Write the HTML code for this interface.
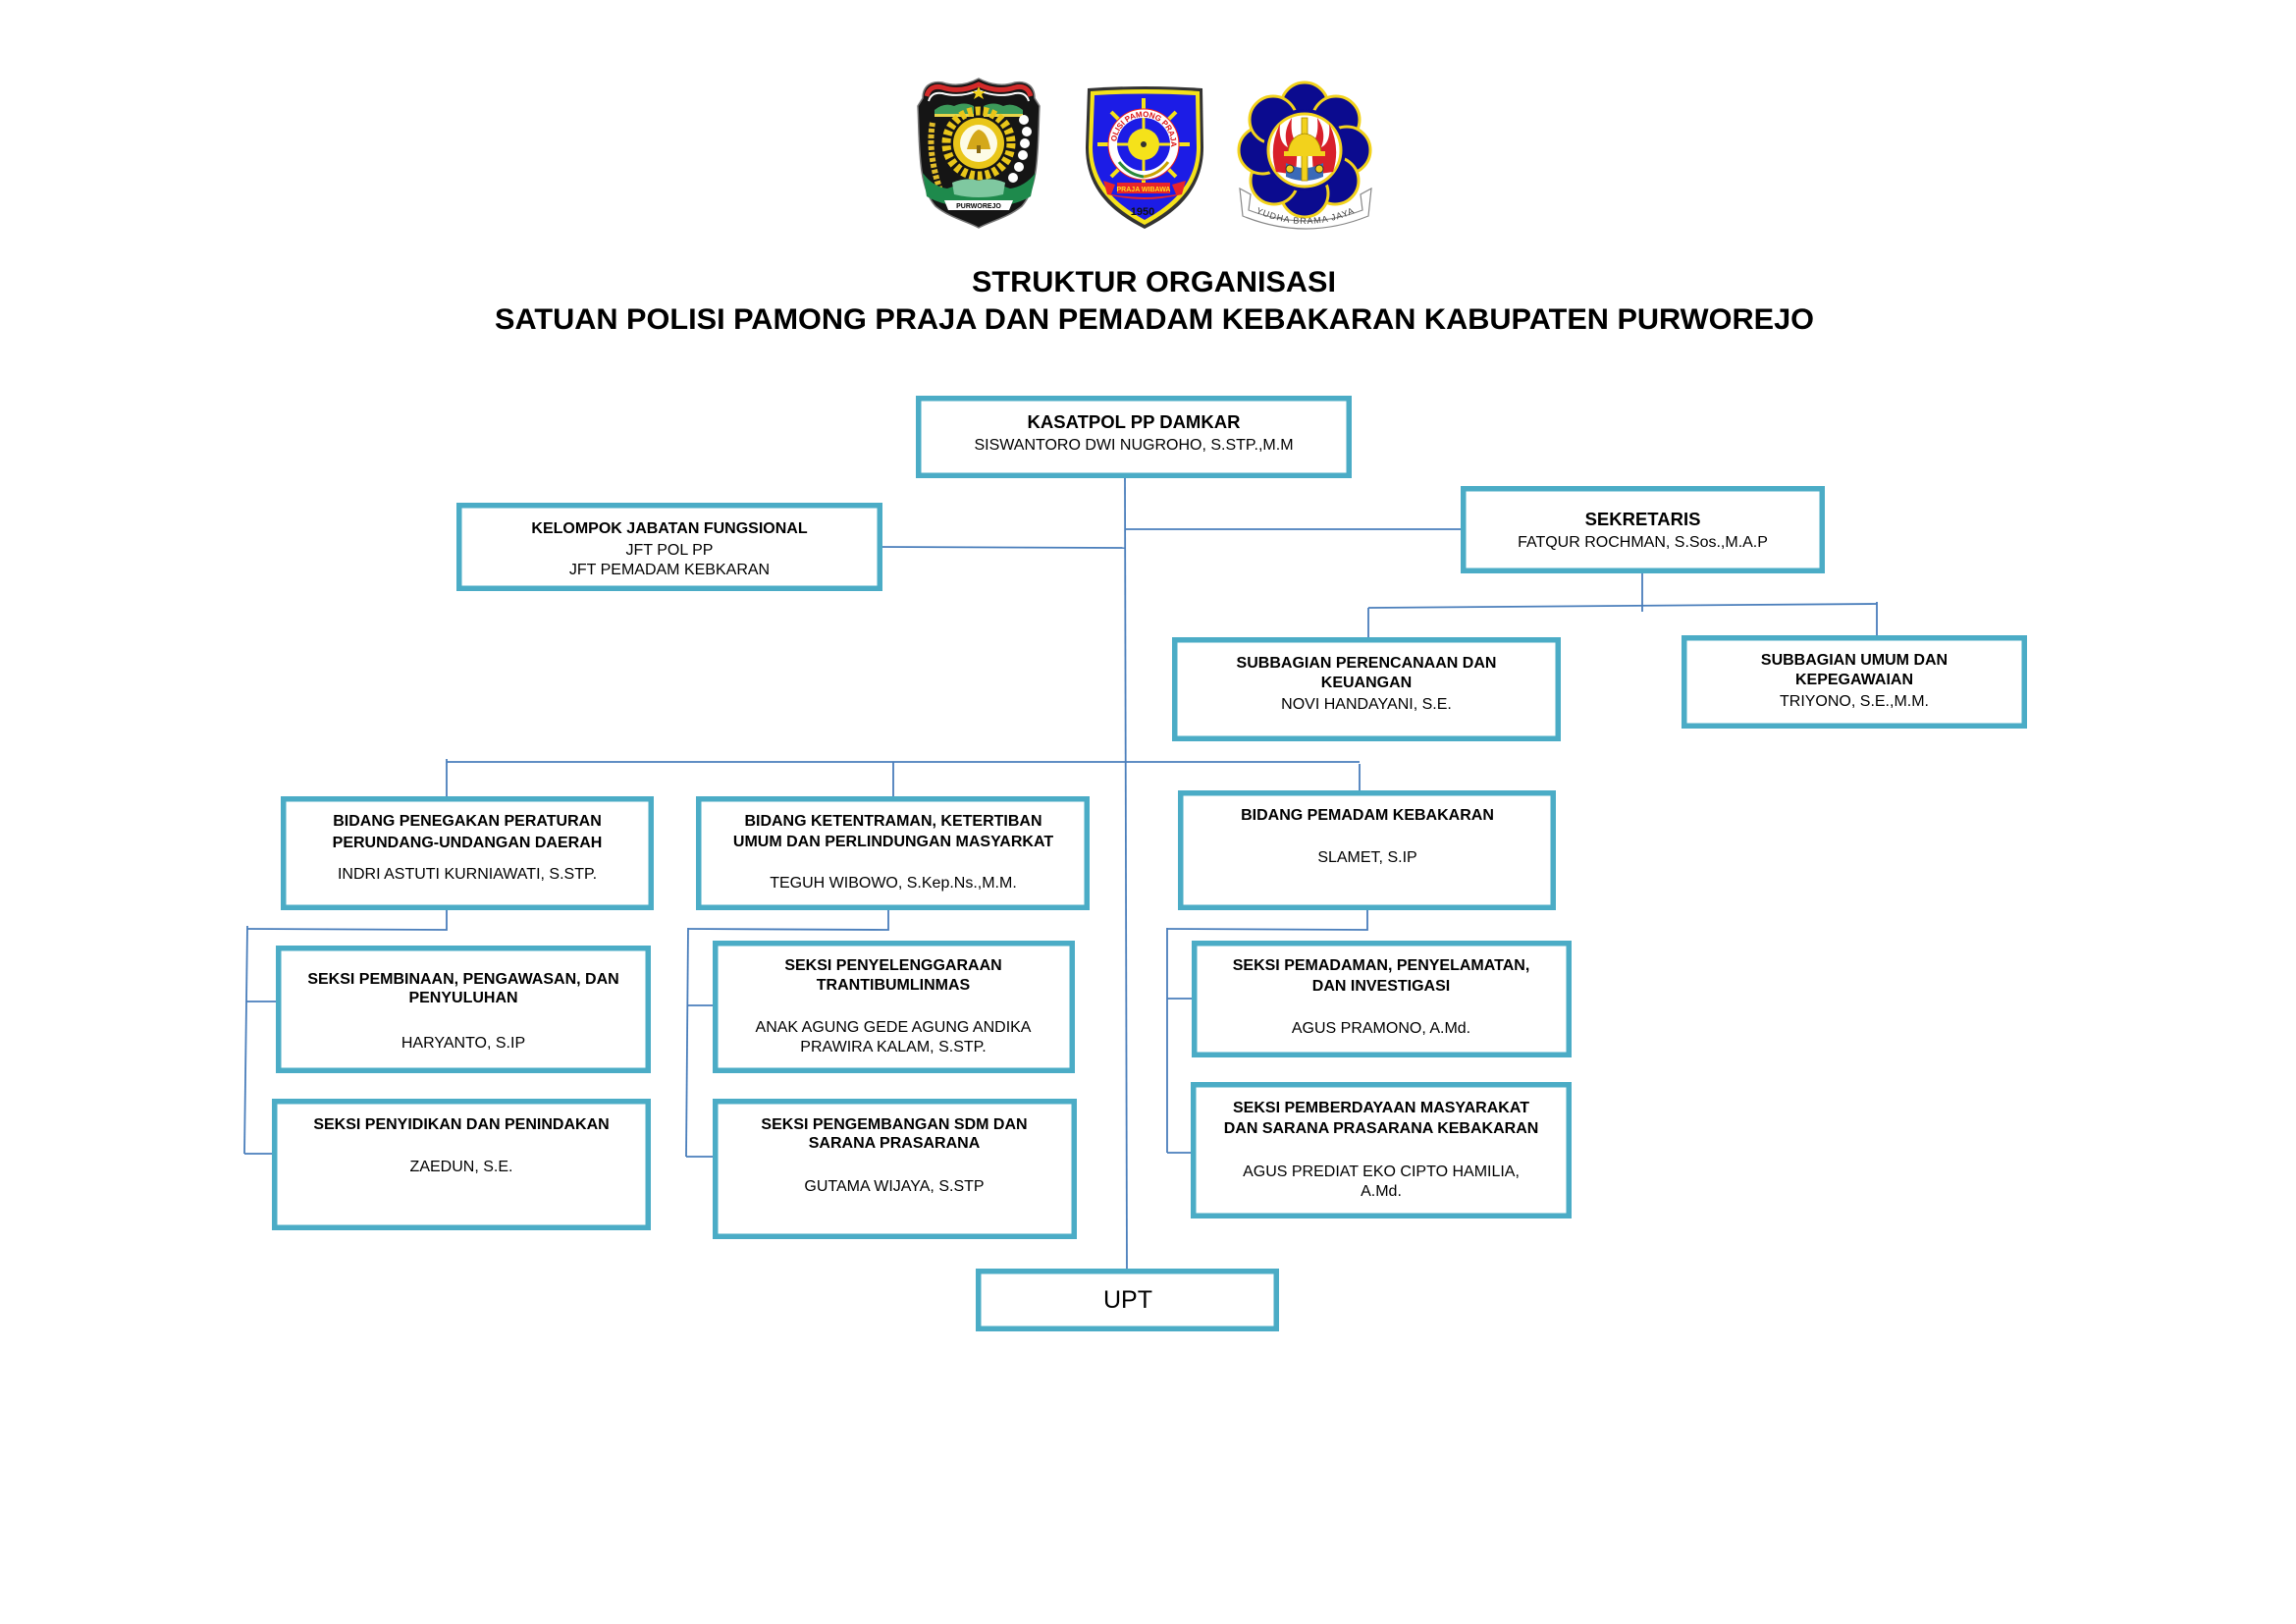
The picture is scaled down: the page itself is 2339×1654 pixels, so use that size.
<!DOCTYPE html>
<html>
<head>
<meta charset="utf-8">
<style>
html,body{margin:0;padding:0;background:#fff;}
svg{display:block;}
text{font-family:"Liberation Sans",Arial,sans-serif;fill:#000;}
.b{font-weight:bold;font-size:16px;}
.r{font-size:16px;}
.bx{fill:#fff;stroke:#4bacc6;stroke-width:5.5;}
.ln{stroke:#4a7ebb;stroke-width:1.8;fill:none;}
</style>
</head>
<body>
<svg width="2339" height="1654" viewBox="0 0 2339 1654" xmlns="http://www.w3.org/2000/svg">
<rect width="2339" height="1654" fill="#fff"/>

<!-- ===== LOGO 1 (Purworejo) ===== -->
<g>
  <path d="M940,100 C940,88 948,82 960,84 Q978,90 997,80 Q1016,90 1034,84 C1046,82 1054,88 1054,100 L1059,108 C1057,150 1059,190 1041,210 C1026,222 1010,225 997,232 C984,225 968,222 953,210 C935,190 937,150 935,108 Z" fill="#151515" stroke="#777" stroke-width="1.5"/>
  <path d="M944,98 C946,90 952,87 960,89 Q978,95 997,86 Q1016,95 1034,89 C1042,87 1048,90 1050,98" fill="none" stroke="#d42a2a" stroke-width="5"/>
  <path d="M946,103 C948,96 953,94 960,95 Q978,100 997,92 Q1016,100 1034,95 C1041,94 1046,96 1048,103" fill="none" stroke="#fff" stroke-width="2"/>
  <path d="M952,112 Q962,104 972,108 Q982,103 992,108 L992,116 L952,116 Z" fill="#3c9a5a"/>
  <path d="M1002,108 Q1012,103 1022,108 Q1032,104 1042,112 L1042,116 L1002,116 Z" fill="#3c9a5a"/>
  <rect x="952" y="116" width="40" height="3" fill="#e8d44a"/>
  <rect x="1002" y="116" width="40" height="3" fill="#e8d44a"/>
  <polygon points="997,88 999,93 1004,93 1000,96 1002,101 997,98 992,101 994,96 990,93 995,93" fill="#f2d21c"/>
  <circle cx="997" cy="146" r="33" fill="none" stroke="#e9c619" stroke-width="9" stroke-dasharray="5 3"/>
  <circle cx="997" cy="146" r="26" fill="#e9c619"/>
  <circle cx="997" cy="146" r="19" fill="#fdfbe6"/>
  <path d="M985,152 Q990,134 997,132 Q1006,134 1009,152 Z" fill="#d4a81a"/>
  <rect x="995" y="148" width="4" height="8" fill="#8a6a10"/>
  <path d="M950,125 Q944,160 962,205" fill="none" stroke="#e2bd2a" stroke-width="6" stroke-dasharray="4 2"/>
  <circle cx="1043" cy="122" r="5" fill="#fff"/><circle cx="1046" cy="134" r="5" fill="#fff"/>
  <circle cx="1044" cy="146" r="5" fill="#fff"/><circle cx="1042" cy="158" r="5" fill="#fff"/>
  <circle cx="1038" cy="170" r="5" fill="#fff"/><circle cx="1032" cy="181" r="5" fill="#fff"/>
  <path d="M940,176 Q950,190 965,192 Q980,186 997,188 Q1014,186 1029,192 Q1044,190 1055,176 L1050,200 Q1030,212 997,210 Q964,212 944,200 Z" fill="#1e8a4c"/>
  <path d="M970,186 Q985,180 997,184 Q1010,180 1024,186 L1022,198 Q997,204 972,198 Z" fill="#7fc8a0"/>
  <path d="M962,204 L1032,204 L1028,214 L966,214 Z" fill="#fff"/>
  <text x="997" y="212" font-size="7" font-weight="bold" text-anchor="middle">PURWOREJO</text>
</g>

<!-- ===== LOGO 2 (Satpol PP) ===== -->
<g>
  <path d="M1108,90 Q1166,86 1225,90 L1226,150 C1226,192 1200,216 1166,233 C1132,216 1106,192 1106,150 Z" fill="#333"/>
  <path d="M1111,93 Q1166,89 1222,93 L1223,150 C1223,189 1198,212 1166,229 C1134,212 1109,189 1109,150 Z" fill="#f5e21a"/>
  <path d="M1115,97 Q1166,94 1218,97 L1219,150 C1219,186 1195,208 1166,224 C1137,208 1113,186 1113,150 Z" fill="#1c1ce6"/>
  <g stroke="#f5e21a" stroke-width="4">
    <line x1="1165" y1="100" x2="1165" y2="194"/>
    <line x1="1118" y1="147" x2="1212" y2="147"/>
    <line x1="1132" y1="114" x2="1198" y2="180"/>
    <line x1="1198" y1="114" x2="1132" y2="180"/>
  </g>
  <circle cx="1165" cy="147" r="36" fill="#fff" stroke="#e22" stroke-width="1"/>
  <circle cx="1165" cy="147" r="27" fill="#1c1ce6"/>
  <g stroke="#f5e21a" stroke-width="3">
    <line x1="1165" y1="120" x2="1165" y2="174"/>
    <line x1="1138" y1="147" x2="1192" y2="147"/>
  </g>
  <circle cx="1165" cy="147" r="16" fill="#f5e21a"/>
  <circle cx="1165" cy="147" r="3" fill="#333"/>
  <path id="arc2" d="M1137,147 A28,28 0 0 1 1193,147" fill="none"/>
  <text font-size="8" font-weight="bold" style="fill:#d11"><textPath href="#arc2" startOffset="50%" text-anchor="middle">POLISI PAMONG PRAJA</textPath></text>
  <path d="M1140,165 Q1150,178 1165,180" fill="none" stroke="#2a8a3a" stroke-width="3"/>
  <path d="M1190,165 Q1180,178 1165,180" fill="none" stroke="#c9a200" stroke-width="3"/>
  <path d="M1124,184 L1136,188 L1132,198 Q1165,204 1198,198 L1194,188 L1208,184 L1204,198 Q1165,208 1128,198 Z" fill="#e8242a"/>
  <rect x="1138" y="186" width="54" height="11" fill="#e8242a"/>
  <text x="1165" y="195" font-size="7" font-weight="bold" text-anchor="middle" style="fill:#ffe01a">PRAJA WIBAWA</text>
  <text x="1164" y="219" font-size="11" font-weight="bold" text-anchor="middle" style="fill:#111">1950</text>
</g>

<!-- ===== LOGO 3 (Damkar) ===== -->
<g>
  <path d="M1263,192 L1274,198 L1272,214 Q1330,236 1388,214 L1386,198 L1397,192 L1394,220 Q1330,246 1266,220 Z" fill="#fff" stroke="#888" stroke-width="1.2"/>
  <g fill="#0b0b8f" stroke="#f2d21c" stroke-width="3">
    <circle cx="1329" cy="108" r="24"/>
    <circle cx="1361" cy="122" r="24"/>
    <circle cx="1372" cy="153" r="24"/>
    <circle cx="1360" cy="184" r="24"/>
    <circle cx="1329" cy="197" r="24"/>
    <circle cx="1298" cy="184" r="24"/>
    <circle cx="1286" cy="153" r="24"/>
    <circle cx="1297" cy="122" r="24"/>
  </g>
  <circle cx="1329" cy="153" r="42" fill="#0b0b8f"/>
  <circle cx="1329" cy="153" r="37" fill="#fff" stroke="#f2d21c" stroke-width="3"/>
  <path d="M1300,175 Q1292,150 1304,126 Q1302,145 1312,150 Q1306,135 1316,120 Q1314,140 1322,146 L1320,178 Z" fill="#d8202a"/>
  <path d="M1358,175 Q1366,150 1354,126 Q1356,145 1346,150 Q1352,135 1342,120 Q1344,140 1336,146 L1338,178 Z" fill="#d8202a"/>
  <path d="M1310,166 Q1329,176 1348,166 L1348,180 Q1329,188 1310,180 Z" fill="#3a6ab8"/>
  <rect x="1326" y="120" width="6" height="64" fill="#f2d21c" stroke="#a88800" stroke-width="0.8"/>
  <path d="M1312,156 Q1314,138 1329,136 Q1344,138 1346,156 Z" fill="#f2d21c" stroke="#a88800" stroke-width="0.8"/>
  <rect x="1308" y="154" width="42" height="5" fill="#f2d21c"/>
  <circle cx="1314" cy="172" r="4" fill="#f2d21c" stroke="#333" stroke-width="1"/>
  <circle cx="1344" cy="172" r="4" fill="#f2d21c" stroke="#333" stroke-width="1"/>
  <path id="arc3" d="M1274,214 Q1330,242 1386,214" fill="none"/>
  <text font-size="9" style="fill:#444" letter-spacing="1"><textPath href="#arc3" startOffset="50%" text-anchor="middle">YUDHA BRAMA JAYA</textPath></text>
</g>

<!-- ===== TITLE ===== -->
<text x="990" y="297" font-size="30" font-weight="bold" textLength="371" lengthAdjust="spacingAndGlyphs">STRUKTUR ORGANISASI</text>
<text x="504" y="335" font-size="30" font-weight="bold" textLength="1344" lengthAdjust="spacingAndGlyphs">SATUAN POLISI PAMONG PRAJA DAN PEMADAM KEBAKARAN KABUPATEN PURWOREJO</text>

<!-- ===== CONNECTORS ===== -->
<g class="ln">
  <line x1="1146" y1="487" x2="1148" y2="1294"/>
  <line x1="1146" y1="539" x2="1490" y2="539"/>
  <line x1="897" y1="557" x2="1146" y2="558"/>
  <line x1="1673" y1="584" x2="1673" y2="623"/>
  <line x1="1394" y1="619" x2="1912" y2="615"/>
  <line x1="1394" y1="619" x2="1394" y2="652"/>
  <line x1="1912" y1="613" x2="1912" y2="649"/>
  <line x1="455" y1="776" x2="1385" y2="776"/>
  <line x1="455" y1="773" x2="455" y2="812"/>
  <line x1="910" y1="776" x2="910" y2="812"/>
  <line x1="1385" y1="778" x2="1385" y2="807"/>
  <!-- left -->
  <polyline points="455,927 455,947 252,946"/>
  <line x1="252" y1="943" x2="249" y2="1175"/>
  <line x1="251" y1="1020" x2="283" y2="1020"/>
  <line x1="249" y1="1175" x2="279" y2="1175"/>
  <!-- middle -->
  <polyline points="905,927 905,947 701,946"/>
  <line x1="701" y1="945" x2="699" y2="1178"/>
  <line x1="700" y1="1024" x2="729" y2="1024"/>
  <line x1="699" y1="1178" x2="729" y2="1178"/>
  <!-- right -->
  <polyline points="1393,927 1393,947 1189,946"/>
  <line x1="1189" y1="945" x2="1189" y2="1174"/>
  <line x1="1189" y1="1017" x2="1216" y2="1017"/>
  <line x1="1189" y1="1174" x2="1216" y2="1174"/>
</g>

<!-- ===== BOXES ===== -->
<rect class="bx" x="935.75" y="405.75" width="438.5" height="78.5"/>
<rect class="bx" x="467.75" y="514.75" width="428.5" height="84.5"/>
<rect class="bx" x="1490.75" y="497.75" width="365.5" height="83.5"/>
<rect class="bx" x="1196.75" y="651.75" width="390.5" height="100.5"/>
<rect class="bx" x="1715.75" y="649.75" width="346.5" height="89.5"/>
<rect class="bx" x="288.75" y="813.75" width="374.5" height="110.5"/>
<rect class="bx" x="711.75" y="813.75" width="395.5" height="110.5"/>
<rect class="bx" x="1202.75" y="807.75" width="379.5" height="116.5"/>
<rect class="bx" x="283.75" y="965.75" width="376.5" height="124.5"/>
<rect class="bx" x="279.75" y="1121.75" width="380.5" height="128.5"/>
<rect class="bx" x="728.75" y="960.75" width="363.5" height="129.5"/>
<rect class="bx" x="728.75" y="1121.75" width="365.5" height="137.5"/>
<rect class="bx" x="1216.75" y="960.75" width="381.5" height="113.5"/>
<rect class="bx" x="1215.75" y="1104.75" width="382.5" height="133.5"/>
<rect class="bx" x="996.75" y="1294.75" width="303.5" height="58.5"/>

<!-- ===== BOX TEXT ===== -->
<g text-anchor="middle">
  <text class="b" x="1155" y="436" style="font-size:18.5px">KASATPOL PP DAMKAR</text>
  <text class="r" x="1155" y="458">SISWANTORO DWI NUGROHO, S.STP.,M.M</text>

  <text class="b" x="682" y="543">KELOMPOK JABATAN FUNGSIONAL</text>
  <text class="r" x="682" y="565">JFT POL PP</text>
  <text class="r" x="682" y="585">JFT PEMADAM KEBKARAN</text>

  <text class="b" x="1673.5" y="535" style="font-size:18.5px">SEKRETARIS</text>
  <text class="r" x="1673.5" y="557">FATQUR ROCHMAN, S.Sos.,M.A.P</text>

  <text class="b" x="1392" y="680">SUBBAGIAN PERENCANAAN DAN</text>
  <text class="b" x="1392" y="700">KEUANGAN</text>
  <text class="r" x="1392" y="722">NOVI HANDAYANI, S.E.</text>

  <text class="b" x="1889" y="677">SUBBAGIAN UMUM DAN</text>
  <text class="b" x="1889" y="697">KEPEGAWAIAN</text>
  <text class="r" x="1889" y="719">TRIYONO, S.E.,M.M.</text>

  <text class="b" x="476" y="841">BIDANG PENEGAKAN PERATURAN</text>
  <text class="b" x="476" y="863">PERUNDANG-UNDANGAN DAERAH</text>
  <text class="r" x="476" y="895">INDRI ASTUTI KURNIAWATI, S.STP.</text>

  <text class="b" x="910" y="841">BIDANG KETENTRAMAN, KETERTIBAN</text>
  <text class="b" x="910" y="862">UMUM DAN PERLINDUNGAN MASYARKAT</text>
  <text class="r" x="910" y="904">TEGUH WIBOWO, S.Kep.Ns.,M.M.</text>

  <text class="b" x="1393" y="835">BIDANG PEMADAM KEBAKARAN</text>
  <text class="r" x="1393" y="878">SLAMET, S.IP</text>

  <text class="b" x="472" y="1002">SEKSI PEMBINAAN, PENGAWASAN, DAN</text>
  <text class="b" x="472" y="1021">PENYULUHAN</text>
  <text class="r" x="472" y="1067">HARYANTO, S.IP</text>

  <text class="b" x="470" y="1150">SEKSI PENYIDIKAN DAN PENINDAKAN</text>
  <text class="r" x="470" y="1193">ZAEDUN, S.E.</text>

  <text class="b" x="910" y="988">SEKSI PENYELENGGARAAN</text>
  <text class="b" x="910" y="1008">TRANTIBUMLINMAS</text>
  <text class="r" x="910" y="1051">ANAK AGUNG GEDE AGUNG ANDIKA</text>
  <text class="r" x="910" y="1071">PRAWIRA KALAM, S.STP.</text>

  <text class="b" x="911" y="1150">SEKSI PENGEMBANGAN SDM DAN</text>
  <text class="b" x="911" y="1169">SARANA PRASARANA</text>
  <text class="r" x="911" y="1213">GUTAMA WIJAYA, S.STP</text>

  <text class="b" x="1407" y="988">SEKSI PEMADAMAN, PENYELAMATAN,</text>
  <text class="b" x="1407" y="1009">DAN INVESTIGASI</text>
  <text class="r" x="1407" y="1052">AGUS PRAMONO, A.Md.</text>

  <text class="b" x="1407" y="1133">SEKSI PEMBERDAYAAN MASYARAKAT</text>
  <text class="b" x="1407" y="1154">DAN SARANA PRASARANA KEBAKARAN</text>
  <text class="r" x="1407" y="1198">AGUS PREDIAT EKO CIPTO HAMILIA,</text>
  <text class="r" x="1407" y="1218">A.Md.</text>

  <text x="1149" y="1332" style="font-size:25px">UPT</text>
</g>
</svg>
</body>
</html>
